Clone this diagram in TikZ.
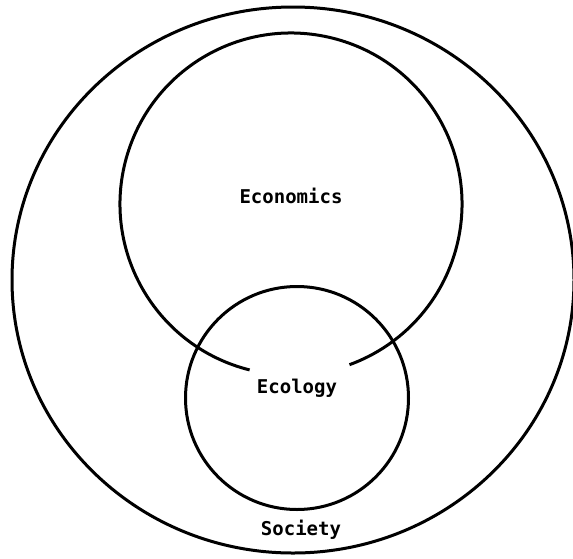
\documentclass[tikz,border=0pt]{standalone}
\usepackage{fontspec}
\newfontfamily\labelfont{DejaVu Sans Mono}
\begin{document}
\begin{tikzpicture}[x=1pt,y=-1pt,
  ring/.style={draw=black,line width=3pt},
  lbl/.style={font=\labelfont\bfseries\fontsize{19}{21}\selectfont,inner sep=0pt}]
\useasboundingbox (0,0) rectangle (573,558);
% Society (outer)
\coordinate (soc) at (293,280);
\draw[ring] (soc) ellipse [x radius=281, y radius=273];
% Economics circle with gap at bottom
\coordinate (eco) at (291,204);
\draw[ring] (eco) ++(104:171) arc[start angle=104, end angle=430, radius=171];
% Ecology circle
\coordinate (ecl) at (297,398);
\draw[ring] (ecl) circle[radius=111.5];
% labels
\node[lbl] (economics) at (291,196) {Economics};
\node[lbl] (ecology) at (297,388) {Ecology};
\node[lbl] (society) at (301,530) {Society};
\end{tikzpicture}
\end{document}
